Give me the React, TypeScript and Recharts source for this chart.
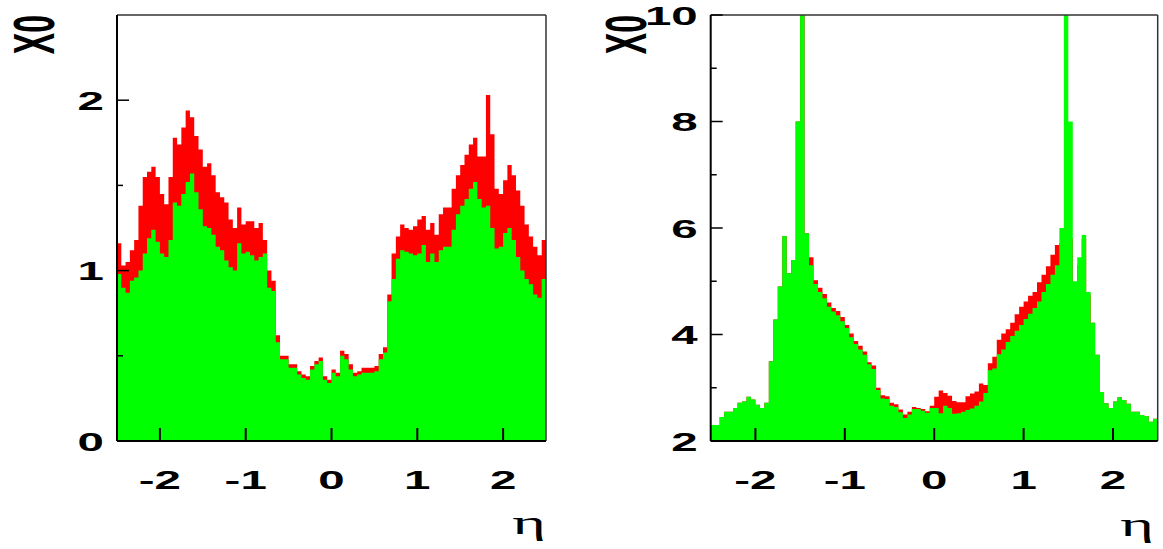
import { ComposedChart, Area, XAxis, YAxis, ReferenceLine } from "recharts";

// eta bins: 100 bins from -2.5 to 2.5
const etaTicks = [-2, -1, 0, 1, 2];
const leftYTicks = [0, 0.5, 1, 1.5, 2];
const rightYTicks = [2, 3, 4, 5, 6, 7, 8, 9, 10];

const leftRed = [
  1.16, 1.03, 1.05, 1.12, 1.18, 1.38, 1.55, 1.58, 1.61, 1.55,
  1.45, 1.39, 1.55, 1.78, 1.74, 1.84, 1.94, 1.9, 1.79, 1.71,
  1.61, 1.63, 1.56, 1.46, 1.43, 1.4, 1.3, 1.25, 1.37, 1.27,
  1.29, 1.29, 1.25, 1.28, 1.18, 1.0, 0.94, 0.62, 0.5, 0.5,
  0.45, 0.45, 0.41, 0.39, 0.38, 0.44, 0.47, 0.49, 0.38, 0.36,
  0.42, 0.4, 0.53, 0.51, 0.45, 0.4, 0.41, 0.43, 0.43, 0.43,
  0.44, 0.51, 0.55, 0.86, 1.1, 1.2, 1.27, 1.25, 1.24, 1.26,
  1.3, 1.32, 1.24, 1.28, 1.21, 1.33, 1.37, 1.37, 1.48, 1.56,
  1.62, 1.68, 1.74, 1.78, 1.67, 1.67, 2.03, 1.8, 1.48, 1.45,
  1.53, 1.62, 1.56, 1.47, 1.38, 1.27, 1.2, 1.14, 1.09, 1.18,
];

const leftGreen = [
  0.98, 0.9, 0.87, 0.94, 0.96, 1.0, 1.1, 1.19, 1.24, 1.17,
  1.1, 1.08, 1.18, 1.4, 1.38, 1.45, 1.52, 1.57, 1.46, 1.36,
  1.26, 1.25, 1.21, 1.14, 1.12, 1.06, 1.02, 1.0, 1.16, 1.1,
  1.11, 1.09, 1.06, 1.08, 1.1, 0.9, 0.88, 0.58, 0.48, 0.48,
  0.43, 0.43, 0.39, 0.37, 0.36, 0.42, 0.45, 0.47, 0.36, 0.34,
  0.4, 0.38, 0.5, 0.48, 0.42, 0.38, 0.39, 0.4, 0.4, 0.4,
  0.41, 0.48, 0.52, 0.82, 0.95, 1.07, 1.12, 1.11, 1.1, 1.09,
  1.1, 1.15, 1.05, 1.1, 1.05, 1.12, 1.14, 1.14, 1.24, 1.33,
  1.38, 1.42, 1.48, 1.52, 1.42, 1.37, 1.38, 1.25, 1.13, 1.14,
  1.22, 1.25, 1.18, 1.08, 1.0, 0.95, 0.92, 0.86, 0.84, 0.95,
];

const rightRed = [
  2.3, 2.3, 2.45, 2.55, 2.55, 2.62, 2.72, 2.74, 2.83, 2.78,
  2.68, 2.62, 2.72, 3.5, 4.28, 4.9, 5.85, 5.15, 5.4, 8.0,
  10.5, 5.9, 5.45, 5.02, 4.88, 4.76, 4.6, 4.5, 4.44, 4.33,
  4.18, 4.02, 3.88, 3.79, 3.68, 3.48, 3.42, 3.0, 2.86, 2.84,
  2.72, 2.69, 2.59, 2.5, 2.55, 2.64, 2.62, 2.6, 2.56, 2.66,
  2.83, 2.95, 2.9, 2.85, 2.75, 2.73, 2.73, 2.84, 2.89, 2.93,
  3.08, 3.05, 3.46, 3.58, 3.9, 4.02, 4.1, 4.22, 4.38, 4.52,
  4.62, 4.73, 4.8, 4.98, 5.12, 5.28, 5.5, 5.68, 5.72, 5.8,
  5.8, 4.9, 5.3, 5.8, 4.75, 4.22, 3.62, 2.92, 2.71, 2.62,
  2.74, 2.82, 2.77, 2.7, 2.55, 2.55, 2.49, 2.47, 2.36, 2.42,
];

const rightGreen = [
  2.3, 2.3, 2.45, 2.55, 2.55, 2.62, 2.72, 2.74, 2.83, 2.78,
  2.68, 2.62, 2.72, 3.5, 4.28, 4.9, 5.85, 5.15, 5.4, 8.0,
  10.5, 5.9, 5.3, 4.95, 4.8, 4.68, 4.52, 4.43, 4.36, 4.25,
  4.12, 3.95, 3.82, 3.72, 3.62, 3.44, 3.35, 2.96, 2.8, 2.79,
  2.66, 2.64, 2.54, 2.43, 2.5, 2.6, 2.6, 2.57, 2.53, 2.62,
  2.62, 2.52, 2.66, 2.62, 2.51, 2.52, 2.55, 2.58, 2.61, 2.66,
  2.74, 2.9, 3.33, 3.36, 3.63, 3.72, 3.86, 3.97, 4.07, 4.18,
  4.29, 4.39, 4.5, 4.62, 4.8, 4.95, 5.12, 5.3, 6.0, 10.5,
  8.0, 5.0, 5.45, 5.87, 4.8, 4.22, 3.62, 2.92, 2.71, 2.62,
  2.74, 2.82, 2.77, 2.7, 2.55, 2.55, 2.49, 2.47, 2.36, 2.42,
];

const STRETCH = 1.9;
const FONT = "'Liberation Sans', Arial, Helvetica, sans-serif";

// histogram bins -> step points at the bin edges
function buildRows(red: number[], green: number[]) {
  const n = red.length;
  const w = 5 / n;
  const rows = [];
  for (let i = 0; i <= n; i++) {
    const k = Math.min(i, n - 1);
    rows.push({ eta: +(-2.5 + i * w).toFixed(4), red: red[k], green: green[k] });
  }
  return rows;
}

function XTick(props: any) {
  const { x, y, payload } = props;
  return (
    <g>
      <line x1={x} y1={y} x2={x} y2={y - 13} stroke="#000" strokeWidth={2} />
      <text
        transform={`translate(${x},${y + 48}) scale(${STRETCH},1)`}
        textAnchor="middle"
        fontFamily={FONT}
        fontWeight="bold"
        fontSize={25}
        fill="#000"
      >
        {payload.value}
      </text>
    </g>
  );
}

function YTick(props: any) {
  const { x, y, payload, step } = props;
  const v = payload.value;
  const major = Math.abs(v / step - Math.round(v / step)) < 1e-6;
  return (
    <g>
      <line x1={x} y1={y} x2={x + (major ? 12 : 6)} y2={y} stroke="#000" strokeWidth={1.5} />
      {major && (
        <text
          transform={`translate(${x - 13},${y + 9.5}) scale(${STRETCH},1)`}
          textAnchor="end"
          fontFamily={FONT}
          fontWeight="bold"
          fontSize={25}
          fill="#000"
        >
          {v}
        </text>
      )}
    </g>
  );
}

function X0Title({ px }: { px: number }) {
  return (
    <text
      transform={`translate(${px},15) scale(1.8,1) rotate(-90)`}
      textAnchor="end"
      fontFamily={FONT}
      fontWeight="bold"
      fontSize={32}
      fill="#000"
    >
      X0
    </text>
  );
}

function EtaTitle({ px, py }: { px: number; py: number }) {
  return (
    <text
      transform={`translate(${px},${py}) scale(${STRETCH},1)`}
      textAnchor="end"
      fontFamily="'Liberation Serif', 'DejaVu Serif', serif"
      fontSize={34}
      fill="#000"
    >
      η
    </text>
  );
}

interface PanelProps {
  red: number[];
  green: number[];
  yTicks: number[];
  yDomain: [number, number];
  majorStep: number;
  width: number;
  marginLeft: number;
  marginRight: number;
  titleX: number;
  etaX: number;
  etaY: number;
}

function Panel(p: PanelProps) {
  const rows = buildRows(p.red, p.green);
  return (
    <ComposedChart
      width={p.width}
      height={549}
      data={rows}
      margin={{ top: 15, right: p.marginRight, bottom: 78, left: p.marginLeft }}
    >
      <Area
        type="stepAfter"
        dataKey="red"
        fill="#ff0000"
        fillOpacity={1}
        stroke="none"
        baseValue={p.yDomain[0]}
        dot={false}
        activeDot={false}
        isAnimationActive={false}
      />
      <Area
        type="stepAfter"
        dataKey="green"
        fill="#00ff00"
        fillOpacity={1}
        stroke="none"
        baseValue={p.yDomain[0]}
        dot={false}
        activeDot={false}
        isAnimationActive={false}
      />
      <ReferenceLine y={p.yDomain[1]} stroke="#333" strokeWidth={1.5} />
      <ReferenceLine x={2.5} stroke="#333" strokeWidth={1.5} />
      <XAxis
        dataKey="eta"
        type="number"
        domain={[-2.5, 2.5]}
        allowDataOverflow
        ticks={etaTicks}
        interval={0}
        tickSize={0}
        tickMargin={0}
        tickLine={false}
        axisLine={{ stroke: "#000", strokeWidth: 2 }}
        tick={<XTick />}
        height={30}
        label={<EtaTitle px={p.etaX} py={p.etaY} />}
      />
      <YAxis
        type="number"
        domain={p.yDomain}
        allowDataOverflow
        ticks={p.yTicks}
        interval={0}
        tickSize={0}
        tickMargin={0}
        tickLine={false}
        axisLine={{ stroke: "#000", strokeWidth: 2 }}
        tick={<YTick step={p.majorStep} />}
        width={30}
        label={<X0Title px={p.titleX} />}
      />
    </ComposedChart>
  );
}

export default function App() {
  return (
    <div style={{ position: "absolute", left: 0, top: 0, width: 1163, height: 549, background: "#fff" }}>
      <div style={{ position: "absolute", left: 0, top: 0 }}>
        <Panel
          red={leftRed}
          green={leftGreen}
          yTicks={leftYTicks}
          yDomain={[0, 2.5]}
          majorStep={1}
          width={580}
          marginLeft={87}
          marginRight={34}
          titleX={54}
          etaX={546}
          etaY={534}
        />
      </div>
      <div style={{ position: "absolute", left: 580, top: 0 }}>
        <Panel
          red={rightRed}
          green={rightGreen}
          yTicks={rightYTicks}
          yDomain={[2, 10]}
          majorStep={2}
          width={583}
          marginLeft={100.7}
          marginRight={5.3}
          titleX={66}
          etaX={574}
          etaY={536}
        />
      </div>
    </div>
  );
}
